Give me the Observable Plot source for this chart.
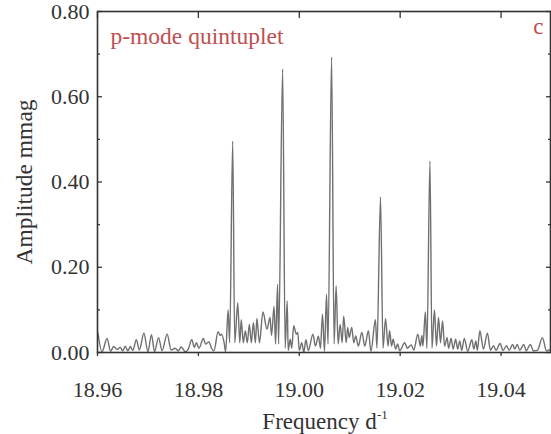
<!DOCTYPE html>
<html><head><meta charset="utf-8">
<script src="https://cdn.jsdelivr.net/npm/d3@7"></script>
<script src="https://cdn.jsdelivr.net/npm/@observablehq/plot@0.6"></script>
<style>
html,body{margin:0;padding:0;background:#fff;}
</style>
</head><body><div id="chart"></div>
<script>
// Amplitude spectrum (frequency in d^-1, amplitude in mmag)
const freq = [
18.9601,18.9609,18.9619,18.9626,18.9632,18.9639,18.9645,18.9650,18.9655,18.9660,
18.9665,18.9670,18.9677,18.9683,18.9692,18.9700,18.9707,18.9713,18.9721,18.9728,
18.9738,18.9746,18.9754,18.9760,18.9766,18.9774,18.9780,18.9787,18.9792,18.9796,
18.9801,18.9810,18.9814,18.9821,18.9826,18.9831,18.9839,18.9843,18.9846,18.9851,
18.9854,18.9859,18.9862,18.9868,18.9872,18.9878,18.9882,18.9885,18.9889,18.9893,
18.9897,18.9901,18.9905,18.9909,18.9913,18.9916,18.9921,18.9928,18.9936,18.9942,
18.9945,18.9950,18.9953,18.9957,18.9959,18.9967,18.9972,18.9976,18.9978,18.9982,
18.9985,18.9989,18.9994,18.9997,19.0000,19.0005,19.0009,19.0013,19.0018,19.0027,
19.0032,19.0038,19.0042,19.0046,19.0050,19.0054,19.0057,19.0064,19.0069,19.0073,
19.0077,19.0081,19.0085,19.0088,19.0093,19.0096,19.0099,19.0104,19.0108,19.0112,
19.0117,19.0124,19.0130,19.0137,19.0142,19.0151,19.0154,19.0161,19.0166,19.0171,
19.0176,19.0179,19.0183,19.0186,19.0191,19.0195,19.0199,19.0209,19.0214,19.0222,
19.0227,19.0235,19.0240,19.0243,19.0245,19.0250,19.0253,19.0259,19.0263,19.0268,
19.0272,19.0276,19.0280,19.0284,19.0288,19.0293,19.0296,19.0301,19.0305,19.0310,
19.0314,19.0318,19.0322,19.0327,19.0334,19.0342,19.0346,19.0350,19.0353,19.0358,
19.0365,19.0373,19.0379,19.0385,19.0390,19.0398,19.0404,19.0411,19.0416,19.0423,
19.0427,19.0432,19.0437,19.0445,19.0450,19.0458,19.0464,19.0472,19.0482,19.0490,
19.0496
];
const amp = [
0.045,0.002,0.033,0.003,0.014,0.007,0.012,0.004,0.015,0.004,
0.014,0.005,0.030,0.006,0.045,0.002,0.042,0.002,0.035,0.004,
0.043,0.006,0.010,0.004,0.013,0.002,0.008,0.030,0.012,0.023,
0.010,0.033,0.020,0.025,0.010,0.004,0.049,0.040,0.043,0.023,
0.002,0.100,0.023,0.496,0.023,0.116,0.023,0.077,0.023,0.051,
0.023,0.066,0.023,0.070,0.023,0.080,0.023,0.095,0.055,0.082,
0.040,0.108,0.020,0.160,0.020,0.665,0.010,0.121,0.005,0.031,
0.010,0.063,0.043,0.047,0.005,0.023,0.000,0.030,0.005,0.043,
0.015,0.038,0.010,0.090,0.003,0.137,0.020,0.693,0.020,0.156,
0.020,0.066,0.023,0.086,0.023,0.059,0.035,0.059,0.023,0.039,
0.015,0.047,0.015,0.051,0.003,0.077,0.010,0.365,0.010,0.080,
0.015,0.051,0.015,0.031,0.008,0.020,0.004,0.023,0.010,0.018,
0.006,0.043,0.015,0.040,0.015,0.095,0.010,0.449,0.010,0.100,
0.015,0.082,0.023,0.074,0.015,0.035,0.010,0.033,0.008,0.031,
0.008,0.027,0.005,0.033,0.003,0.030,0.008,0.027,0.005,0.051,
0.008,0.045,0.005,0.016,0.005,0.021,0.005,0.016,0.005,0.019,
0.008,0.019,0.005,0.019,0.004,0.019,0.004,0.005,0.035,0.004,
0.006
];
const xTicks = [18.96, 18.98, 19.00, 19.02, 19.04];
const yTicks = [0, 0.2, 0.4, 0.6, 0.8];
const yMinor = [0.1, 0.3, 0.5, 0.7];
const panelLabel = "p-mode quintuplet";
const panelLetter = "c";
const xTitle = "Frequency d";
const xTitleSup = "-1";
const yTitle = "Amplitude mmag";

const axisColor = "#333";
const red = "#bf4f51";
const fmt = d3.format(".2f");

const chart = Plot.plot({
  width: 551,
  height: 434,
  marginLeft: 97,
  marginRight: 1,
  marginTop: 11,
  marginBottom: 82,
  style: {fontFamily: "'Liberation Serif', 'Times New Roman', serif", background: "#fff", color: axisColor},
  x: {domain: [18.96, 19.0498]},
  y: {domain: [0, 0.8]},
  marks: [
    Plot.line({length: freq.length}, {x: freq, y: amp, curve: "monotone-x", stroke: "#707070", strokeWidth: 1.4}),
    Plot.frame({stroke: axisColor, strokeWidth: 1.6}),
    // x ticks: bottom outward, top inward
    Plot.axisX(xTicks, {anchor: "bottom", tickSize: 4, text: null, label: null, stroke: axisColor, strokeWidth: 1.3}),
    Plot.axisX(xTicks, {anchor: "top", tickSize: 6, dy: 6, text: null, label: null, stroke: axisColor, strokeWidth: 1.3}),
    Plot.axisX(xTicks, {anchor: "bottom", tickSize: 0, tickPadding: 29, tickFormat: fmt, fontSize: 22, fill: axisColor, label: null}),
    // y ticks inward, left and right
    Plot.axisY(yTicks, {anchor: "left", tickSize: 5, dx: 5, text: null, label: null, stroke: axisColor, strokeWidth: 1.3}),
    Plot.axisY(yMinor, {anchor: "left", tickSize: 3, dx: 3, text: null, label: null, stroke: axisColor, strokeWidth: 1.3}),
    Plot.axisY(yTicks, {anchor: "right", tickSize: 5, dx: -5, text: null, label: null, stroke: axisColor, strokeWidth: 1.3}),
    Plot.axisY(yMinor, {anchor: "right", tickSize: 3, dx: -3, text: null, label: null, stroke: axisColor, strokeWidth: 1.3}),
    Plot.axisY(yTicks, {anchor: "left", tickSize: 0, tickPadding: 8, tickFormat: fmt, fontSize: 22, fill: axisColor, label: null}),
    // titles
    Plot.text([yTitle], {frameAnchor: "left", rotate: -90, dx: -73, fontSize: 23.5, textAnchor: "middle", lineAnchor: "middle", fill: axisColor}),
    Plot.text([xTitle], {frameAnchor: "bottom", dx: -4.5, dy: 60, fontSize: 23, textAnchor: "middle", lineAnchor: "top", fill: axisColor}),
    Plot.text([xTitleSup], {frameAnchor: "bottom", dx: 53, dy: 57, fontSize: 13, textAnchor: "start", lineAnchor: "top", fill: axisColor}),
    // panel annotations
    Plot.text([panelLabel], {frameAnchor: "top-left", dx: 13, dy: 16.3, fontSize: 23.5, textAnchor: "start", lineAnchor: "top", fill: red}),
    Plot.text([panelLetter], {frameAnchor: "top-right", dx: -7, dy: 6.5, fontSize: 23, textAnchor: "end", lineAnchor: "top", fill: red})
  ]
});
document.getElementById("chart").appendChild(chart);
</script>
</body></html>
